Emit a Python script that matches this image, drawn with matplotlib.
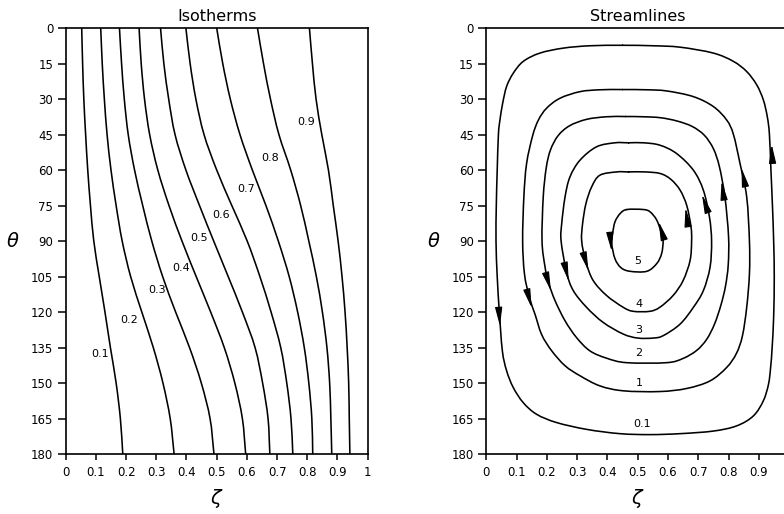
import numpy as np
import matplotlib.pyplot as plt
from matplotlib.path import Path
from matplotlib.patches import PathPatch

plt.rcParams['font.family'] = 'DejaVu Sans'

# ---- isotherms: zeta position of each isotherm at the theta rows ----
theta_rows = [0, 15, 30, 45, 60, 75, 90, 105, 120, 135, 150, 165, 180]
iso_levels = ['0.1', '0.2', '0.3', '0.4', '0.5', '0.6', '0.7', '0.8', '0.9']

iso_01 = [0.053, 0.056, 0.060, 0.066, 0.073, 0.082, 0.093, 0.111, 0.130, 0.148, 0.167, 0.181, 0.189]
iso_02 = [0.116, 0.121, 0.128, 0.137, 0.150, 0.167, 0.187, 0.215, 0.252, 0.290, 0.322, 0.346, 0.359]
iso_03 = [0.178, 0.185, 0.194, 0.207, 0.228, 0.255, 0.285, 0.321, 0.364, 0.410, 0.449, 0.478, 0.491]
iso_04 = [0.243, 0.250, 0.261, 0.278, 0.305, 0.342, 0.385, 0.432, 0.480, 0.525, 0.560, 0.585, 0.596]
iso_05 = [0.314, 0.325, 0.341, 0.362, 0.398, 0.443, 0.490, 0.538, 0.585, 0.627, 0.652, 0.670, 0.676]
iso_06 = [0.398, 0.412, 0.431, 0.458, 0.500, 0.550, 0.601, 0.643, 0.680, 0.712, 0.732, 0.746, 0.752]
iso_07 = [0.500, 0.520, 0.545, 0.577, 0.618, 0.663, 0.704, 0.740, 0.768, 0.790, 0.805, 0.815, 0.818]
iso_08 = [0.635, 0.655, 0.678, 0.706, 0.745, 0.778, 0.805, 0.830, 0.850, 0.865, 0.874, 0.878, 0.881]
iso_09 = [0.807, 0.817, 0.829, 0.848, 0.870, 0.886, 0.902, 0.915, 0.925, 0.932, 0.937, 0.939, 0.941]
isotherms = [iso_01, iso_02, iso_03, iso_04, iso_05, iso_06, iso_07, iso_08, iso_09]

iso_label_zeta = [0.114, 0.210, 0.304, 0.382, 0.441, 0.516, 0.596, 0.677, 0.796]
iso_label_theta = [137.7, 123.4, 110.9, 101.2, 88.9, 79.0, 68.0, 55.0, 39.9]

# ---- streamlines: closed loops, traced top -> left (down) -> bottom -> right (up) ----
psi_labels = ['0.1', '1', '2', '3', '4', '5']

psi_01_zeta = [0.45, 0.342, 0.254, 0.177, 0.122, 0.089, 0.067, 0.054, 0.045, 0.040, 0.036, 0.033,
               0.032, 0.036, 0.043, 0.053, 0.067, 0.089, 0.122, 0.166, 0.232, 0.332, 0.441, 0.54,
               0.640, 0.750, 0.827, 0.882, 0.915, 0.932, 0.939, 0.944, 0.949, 0.951, 0.949, 0.945,
               0.940, 0.935, 0.928, 0.915, 0.893, 0.860, 0.816, 0.750, 0.640, 0.551]
psi_01_theta = [7.3, 7.5, 8.5, 10.6, 14.1, 19.1, 24.7, 31.8, 38.9, 44.9, 60, 75,
                90, 105, 120, 136.4, 144.8, 151.9, 158.3, 163.2, 166.7, 169.6, 171.4, 171.8,
                171.4, 170.3, 168.1, 163.9, 157.5, 150.5, 143.4, 135, 122, 105, 90, 75,
                60, 44.9, 37.5, 30.4, 24.0, 18.4, 14.1, 10.6, 8.1, 7.5]

psi_1_zeta = [0.45, 0.375, 0.309, 0.243, 0.199, 0.172, 0.153, 0.133, 0.124, 0.120, 0.126, 0.142,
              0.161, 0.183, 0.216, 0.260, 0.309, 0.375, 0.453, 0.573, 0.662, 0.739, 0.794, 0.826,
              0.846, 0.860, 0.869, 0.869, 0.860, 0.838, 0.816, 0.794, 0.750, 0.684, 0.596, 0.530]
psi_1_theta = [26.0, 26.1, 26.9, 29.7, 33.9, 38.9, 45.5, 57.3, 71.4, 90, 103.9, 113.7,
               121, 129.6, 136.4, 142.7, 146.9, 151.2, 153.3, 153.6, 152.3, 149.1, 143.4, 137.5,
               130, 118, 103.9, 90, 71.4, 57.3, 44.9, 38.9, 33.2, 29.0, 26.6, 26.1]

psi_2_zeta = [0.46, 0.397, 0.331, 0.275, 0.237, 0.212, 0.198, 0.188, 0.184, 0.194, 0.205, 0.227,
              0.260, 0.298, 0.342, 0.397, 0.463, 0.596, 0.650, 0.695, 0.728, 0.754, 0.775, 0.790,
              0.799, 0.800, 0.788, 0.770, 0.750, 0.720, 0.680, 0.630, 0.575, 0.518]
psi_2_theta = [37.4, 37.5, 38.6, 41.3, 45.5, 51.5, 59, 71.4, 90, 101, 107.4, 115.2,
               123.7, 130.8, 136.4, 139.5, 141.4, 141.4, 139.6, 136.2, 131.5, 125, 117, 109,
               100, 88, 71.4, 58.7, 51.0, 45.3, 41.6, 39.3, 37.9, 37.5]

psi_3_zeta = [0.47, 0.425, 0.364, 0.309, 0.276, 0.260, 0.249, 0.247, 0.265, 0.287, 0.331, 0.386,
              0.452, 0.50, 0.551, 0.584, 0.640, 0.684, 0.717, 0.739, 0.744, 0.737, 0.717, 0.684,
              0.628, 0.573, 0.519]
psi_3_theta = [48.5, 48.5, 50.2, 55.9, 63, 71.4, 82.7, 90, 103.2, 110.9, 118, 124.4,
               129.3, 131.0, 131.0, 130.0, 125.1, 118, 110.9, 101, 90, 79.9, 68.6, 60.1,
               53.0, 49.5, 48.5]

psi_4_zeta = [0.47, 0.431, 0.375, 0.348, 0.329, 0.318, 0.315, 0.329, 0.353, 0.397, 0.452, 0.485,
              0.540, 0.573, 0.617, 0.650, 0.673, 0.678, 0.676, 0.662, 0.640, 0.610, 0.575, 0.524]
psi_4_theta = [60.8, 60.8, 62.2, 67.1, 74.2, 82.7, 90, 98.9, 106.7, 113, 118, 119.7,
               119.7, 118, 113, 106.7, 98.2, 90, 84, 75, 68.5, 64, 61.5, 60.8]

psi_5_zeta = [0.464, 0.442, 0.425, 0.417, 0.414, 0.425, 0.445, 0.475, 0.530, 0.563, 0.579, 0.584,
              0.579, 0.563, 0.541, 0.519]
psi_5_theta = [76.7, 78.4, 81.9, 86.9, 91, 97.5, 101.3, 102.8, 102.8, 99.5, 95.3, 90,
               86.9, 81.2, 77.7, 76.7]

loops_zeta = [psi_01_zeta, psi_1_zeta, psi_2_zeta, psi_3_zeta, psi_4_zeta, psi_5_zeta]
loops_theta = [psi_01_theta, psi_1_theta, psi_2_theta, psi_3_theta, psi_4_theta, psi_5_theta]

psi_label_zeta = [0.515, 0.504, 0.504, 0.504, 0.504, 0.500]
psi_label_theta = [167.4, 149.8, 137.2, 127.7, 116.6, 98.6]

# flow direction arrows: one on the descending (left) and one on the rising (right) branch
arrow_left_zeta = [0.043, 0.142, 0.205, 0.265, 0.329, 0.411]
arrow_left_theta = [122.2, 114.5, 107.4, 103.2, 98.9, 90.5]
arrow_right_zeta = [0.944, 0.849, 0.781, 0.722, 0.662, 0.578]
arrow_right_theta = [53.0, 62.9, 68.5, 74.0, 79.8, 85.5]

zeta_ticks = [0, 0.1, 0.2, 0.3, 0.4, 0.5, 0.6, 0.7, 0.8, 0.9, 1]
zeta_ticklabels = ['0', '0.1', '0.2', '0.3', '0.4', '0.5', '0.6', '0.7', '0.8', '0.9', '1']
theta_ticks = list(range(0, 181, 15))

LW = 1.15


def smooth_path(x, y, closed=False):
    # Catmull-Rom curve through the points, written as cubic Bezier segments
    p = np.column_stack([x, y]).astype(float)
    if closed:
        ext = np.vstack([p[-1], p, p[0], p[1]])
        nseg = len(p)
    else:
        ext = np.vstack([2 * p[0] - p[1], p, 2 * p[-1] - p[-2]])
        nseg = len(p) - 1
    verts = [ext[1]]
    codes = [Path.MOVETO]
    for k in range(1, nseg + 1):
        p0, p1, p2, p3 = ext[k - 1], ext[k], ext[k + 1], ext[k + 2]
        verts += [p1 + (p2 - p0) / 6, p2 - (p3 - p1) / 6, p2]
        codes += [Path.CURVE4] * 3
    return Path(verts, codes)


def draw_curve(ax, x, y, closed=False):
    ax.add_patch(PathPatch(smooth_path(x, y, closed), facecolor='none',
                           edgecolor='black', lw=LW, capstyle='round'))


def style_axes(ax, title, ticklabels):
    ax.set_xlim(0, 1)
    ax.set_ylim(180, 0)
    ax.set_xticks(zeta_ticks)
    ax.set_xticklabels(ticklabels)
    ax.set_yticks(theta_ticks)
    ax.tick_params(axis='y', direction='out', length=6, width=1.1, labelsize=8.5, pad=3)
    ax.tick_params(axis='x', direction='out', length=4.5, width=1.1, labelsize=8.5, pad=4)
    for s in ax.spines.values():
        s.set_linewidth(1.2)
    ax.set_title(title, fontsize=11.5, pad=5)
    ax.text(0.5, -0.105, r'$\zeta$', transform=ax.transAxes, ha='center', va='center', fontsize=14)
    ax.text(-0.175, 0.5, r'$\theta$', transform=ax.transAxes, ha='center', va='center', fontsize=14)


def flow_arrow(ax, zs, ts, za, ta):
    # arrow head placed on the loop, pointing along the order the loop is traced
    pts = ax.transData.transform(np.column_stack([zs, ts]))
    loc = ax.transData.transform((za, ta))
    i = int(np.argmin(np.hypot(*(pts - loc).T)))
    n = len(pts)
    u = pts[(i + 1) % n] - pts[(i - 1) % n]
    u = u / np.hypot(*u)
    inv = ax.transData.inverted()
    tail = inv.transform(loc - 9 * u)
    tip = inv.transform(loc + 9 * u)
    ax.annotate('', xy=tip, xytext=tail,
                arrowprops=dict(arrowstyle='-|>,head_length=1.15,head_width=0.22',
                                color='black', lw=0.8, shrinkA=0, shrinkB=0, mutation_scale=10))


fig = plt.figure(figsize=(7.84, 5.14), dpi=100)
ax1 = fig.add_axes([0.0838, 0.1167, 0.3852, 0.8288])
ax2 = fig.add_axes([0.6203, 0.1167, 0.3862, 0.8288])

# Isotherms
for zs, lab, lz, lt in zip(isotherms, iso_levels, iso_label_zeta, iso_label_theta):
    draw_curve(ax1, zs, theta_rows)
    ax1.text(lz, lt, lab, fontsize=8, ha='center', va='center')
style_axes(ax1, 'Isotherms', zeta_ticklabels)

# Streamlines (the zeta = 1 edge runs past the right side of the figure)
for zs, ts in zip(loops_zeta, loops_theta):
    draw_curve(ax2, zs, ts, closed=True)
for lab, lz, lt in zip(psi_labels, psi_label_zeta, psi_label_theta):
    ax2.text(lz, lt, lab, fontsize=8, ha='center', va='center')
style_axes(ax2, 'Streamlines', zeta_ticklabels[:-1] + [''])

for k in range(len(loops_zeta)):
    flow_arrow(ax2, loops_zeta[k], loops_theta[k], arrow_left_zeta[k], arrow_left_theta[k])
    flow_arrow(ax2, loops_zeta[k], loops_theta[k], arrow_right_zeta[k], arrow_right_theta[k])

fig.savefig('out.png', dpi=100)
